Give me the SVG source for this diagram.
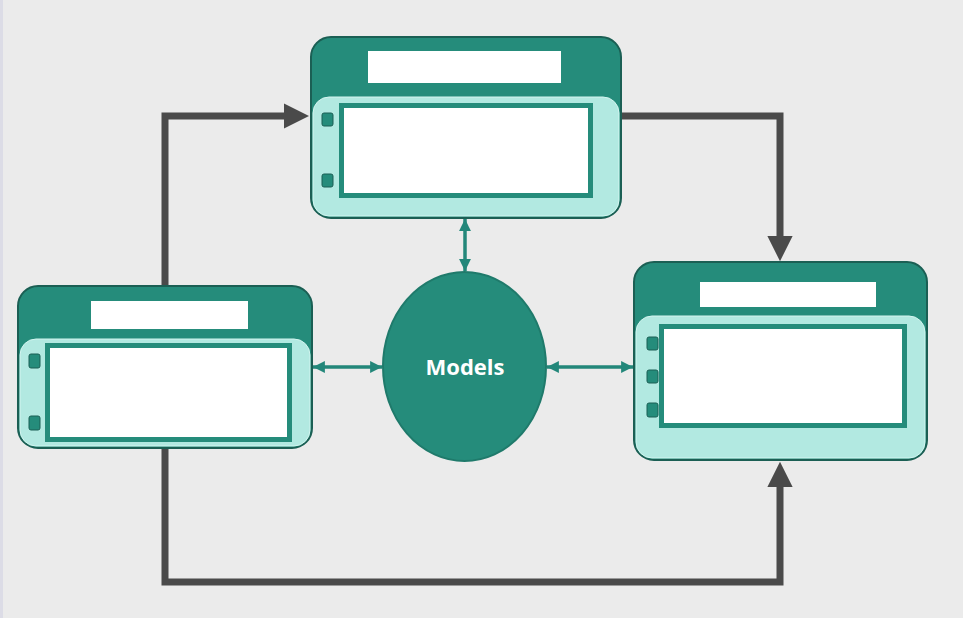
<svg xmlns="http://www.w3.org/2000/svg" width="963" height="618" viewBox="0 0 963 618">
<style>
.outer{fill:#258c7b;stroke:#1b5f54;stroke-width:2}
.panel{fill:#b2e9e1;stroke:#d4f5f0;stroke-width:1}
.frame{fill:#ffffff;stroke:#258c7b;stroke-width:5}
.title{fill:#ffffff}
.dot{fill:#258c7b;stroke:#1b5f54;stroke-width:1}
.flow{fill:none;stroke:#4a4a4a;stroke-width:7;stroke-linejoin:miter}
.link{fill:none;stroke:#23877a;stroke-width:3.5}
.label{font-family:"Open Sans","Liberation Sans",sans-serif;font-weight:700;font-size:22px;fill:#ffffff}
</style>
<defs>
<marker id="gh" viewBox="0 0 10 10" refX="0" refY="5" markerWidth="3.6" markerHeight="3.8" orient="auto" markerUnits="strokeWidth">
<path d="M0,0 L10,5 L0,10 Z" fill="#4a4a4a"/>
</marker>
<marker id="th" viewBox="0 0 10 10" refX="10" refY="5" markerWidth="3.4" markerHeight="3.4" orient="auto-start-reverse" markerUnits="strokeWidth">
<path d="M0,0 L10,5 L0,10 Z" fill="#23877a"/>
</marker>
</defs>
<rect x="0" y="0" width="963" height="618" fill="#ebebeb"/>
<rect x="0" y="0" width="3" height="618" fill="#dcdce6"/>

<g id="connectors">
<path class="flow" d="M165,286 L165,116 L284,116" marker-end="url(#gh)"/>
<path class="flow" d="M621,116 L780,116 L780,236" marker-end="url(#gh)"/>
<path class="flow" d="M165,448 L165,582 L780,582 L780,487" marker-end="url(#gh)"/>
<path class="link" d="M465,219 L465,271" marker-start="url(#th)" marker-end="url(#th)"/>
<path class="link" d="M313,367 L382,367" marker-start="url(#th)" marker-end="url(#th)"/>
<path class="link" d="M547,367 L633,367" marker-start="url(#th)" marker-end="url(#th)"/>
</g>

<g id="node-top">
<rect class="outer" x="311" y="37" width="310" height="181" rx="20"/>
<rect class="panel" x="313" y="97" width="306" height="119" rx="16"/>
<rect class="title" x="368" y="51" width="193" height="32"/>
<rect class="frame" x="341.5" y="105.5" width="249" height="90"/>
<rect class="dot" x="322" y="113" width="11" height="13" rx="2"/>
<rect class="dot" x="322" y="174" width="11" height="13" rx="2"/>
</g>

<g id="node-left">
<rect class="outer" x="18" y="286" width="294" height="162" rx="20"/>
<rect class="panel" x="20" y="339" width="290" height="107" rx="16"/>
<rect class="title" x="91" y="301" width="157" height="28"/>
<rect class="frame" x="47.5" y="345.5" width="242" height="94"/>
<rect class="dot" x="29" y="354" width="11" height="14" rx="2"/>
<rect class="dot" x="29" y="416" width="11" height="14" rx="2"/>
</g>

<g id="node-right">
<rect class="outer" x="634" y="262" width="293" height="198" rx="20"/>
<rect class="panel" x="636" y="316" width="289" height="142" rx="16"/>
<rect class="title" x="700" y="282" width="176" height="25"/>
<rect class="frame" x="661.5" y="326.5" width="243" height="99"/>
<rect class="dot" x="647" y="337" width="11" height="13" rx="2"/>
<rect class="dot" x="647" y="370" width="11" height="13" rx="2"/>
<rect class="dot" x="647" y="403" width="11" height="14" rx="2"/>
</g>

<g id="node-models">
<ellipse cx="464.5" cy="366.5" rx="81.5" ry="94.5" fill="#258c7b" stroke="#1f7a6b" stroke-width="2"/>
<text class="label" x="465" y="375" text-anchor="middle">Models</text>
</g>
</svg>
